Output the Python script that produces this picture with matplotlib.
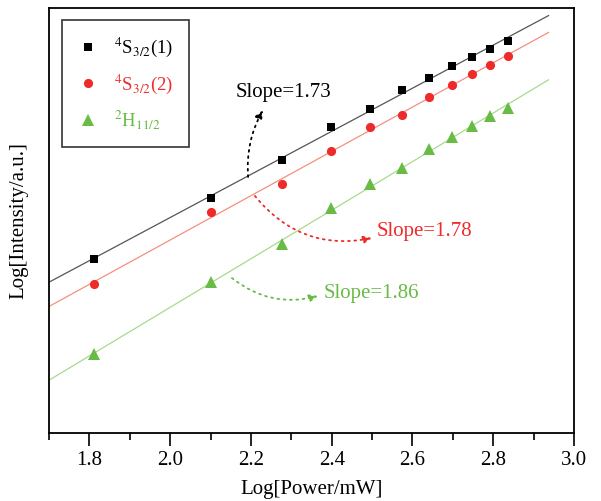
import numpy as np
import matplotlib
matplotlib.use("Agg")
import matplotlib.pyplot as plt
from matplotlib.lines import Line2D

plt.rcParams['font.family'] = ['Liberation Serif', 'DejaVu Serif']
plt.rcParams['mathtext.fontset'] = 'stix'

# Data (log10 power in mW, log intensity in arbitrary units)
log_power = [1.811, 2.101, 2.277, 2.398, 2.496, 2.574, 2.640, 2.699, 2.748, 2.792, 2.836]
s32_1 = [3.42, 3.91, 4.22, 4.49, 4.64, 4.79, 4.89, 4.99, 5.06, 5.13, 5.19]
s32_2 = [3.21, 3.80, 4.03, 4.30, 4.49, 4.59, 4.74, 4.83, 4.92, 5.00, 5.07]
h112 = [2.64, 3.23, 3.54, 3.83, 4.03, 4.16, 4.31, 4.41, 4.50, 4.58, 4.65]

labels = [r'$^{4}$S$_{3/2}$(1)', r'$^{4}$S$_{3/2}$(2)', r'$^{2}$H$_{11/2}$']
slope_labels = ['Slope=1.73', 'Slope=1.78', 'Slope=1.86']
xticks = [1.8, 2.0, 2.2, 2.4, 2.6, 2.8, 3.0]

marker_colors = ['#000000', '#ee2a2a', '#68bb45']
line_colors = ['#555555', '#f4907e', '#a9d98f']
markers = ['s', 'o', '^']
msizes = [6.2, 6.6, 8.2]

fig = plt.figure(figsize=(6.01, 5.01), dpi=100)
ax = fig.add_axes([49/601, 1-433/501, 525/601, 425/501])

x = np.array(log_power)
xfit = np.array([1.7, 2.937])
for ys, mc, lc, mk, ms in zip([s32_1, s32_2, h112], marker_colors, line_colors, markers, msizes):
    p = np.polyfit(x, ys, 1)
    ax.plot(xfit, np.polyval(p, xfit), color=lc, lw=0.9, zorder=2)
    ax.plot(x, ys, linestyle='none', marker=mk, color=mc, ms=ms,
            markeredgewidth=0, zorder=3)

# Annotations
ann = [
    ((2.193, 4.085), (2.230, 4.630), (2.161, 4.769), -0.15),
    ((2.210, 3.930), (2.500, 3.588), (2.512, 3.637), 0.3),
    ((2.153, 3.262), (2.366, 3.116), (2.381, 3.132), 0.25),
]
for (start, end, tpos, rad), txt, col in zip(ann, slope_labels, marker_colors):
    ax.annotate('', xy=end, xytext=start,
                arrowprops=dict(arrowstyle='-|>,head_length=0.5,head_width=0.22',
                                connectionstyle=f'arc3,rad={rad}',
                                linestyle=(0, (1, 2.5)), lw=1.3, color=col,
                                shrinkA=0, shrinkB=0))
    ax.text(tpos[0], tpos[1], txt, color=col, fontsize=15, va='center', ha='left')

ax.set_xlim(1.7, 3.0)
ax.set_ylim(2.0, 5.461)
ax.set_xticks(xticks)
ax.set_xticklabels([f'{v:.1f}' for v in xticks])
ax.set_xticks(np.arange(1.7, 3.0001, 0.1), minor=True)
ax.tick_params(axis='x', which='major', direction='out', length=9, width=1.2, labelsize=15, pad=4)
ax.tick_params(axis='x', which='minor', direction='out', length=5, width=1.2)
ax.set_yticks([])
for s in ax.spines.values():
    s.set_linewidth(1.3)

ax.set_xlabel('Log[Power/mW]', fontsize=15, labelpad=7)
ax.set_ylabel('Log[Intensity/a.u.]', fontsize=15, labelpad=15)

handles = [Line2D([], [], linestyle='none', marker=mk, color=mc, ms=ms,
                  markeredgewidth=0) for mk, mc, ms in zip(markers, marker_colors, msizes)]
leg = ax.legend(handles, labels, loc='upper left', bbox_to_anchor=(13/525, 413/425),
                borderaxespad=0, frameon=True, fancybox=False, fontsize=13.5,
                labelcolor=marker_colors, handlelength=1.1, handletextpad=0.8,
                labelspacing=0.68, borderpad=0.85)
leg.get_frame().set_edgecolor('black')
leg.get_frame().set_linewidth(1.2)

fig.savefig('out.png', dpi=100)
